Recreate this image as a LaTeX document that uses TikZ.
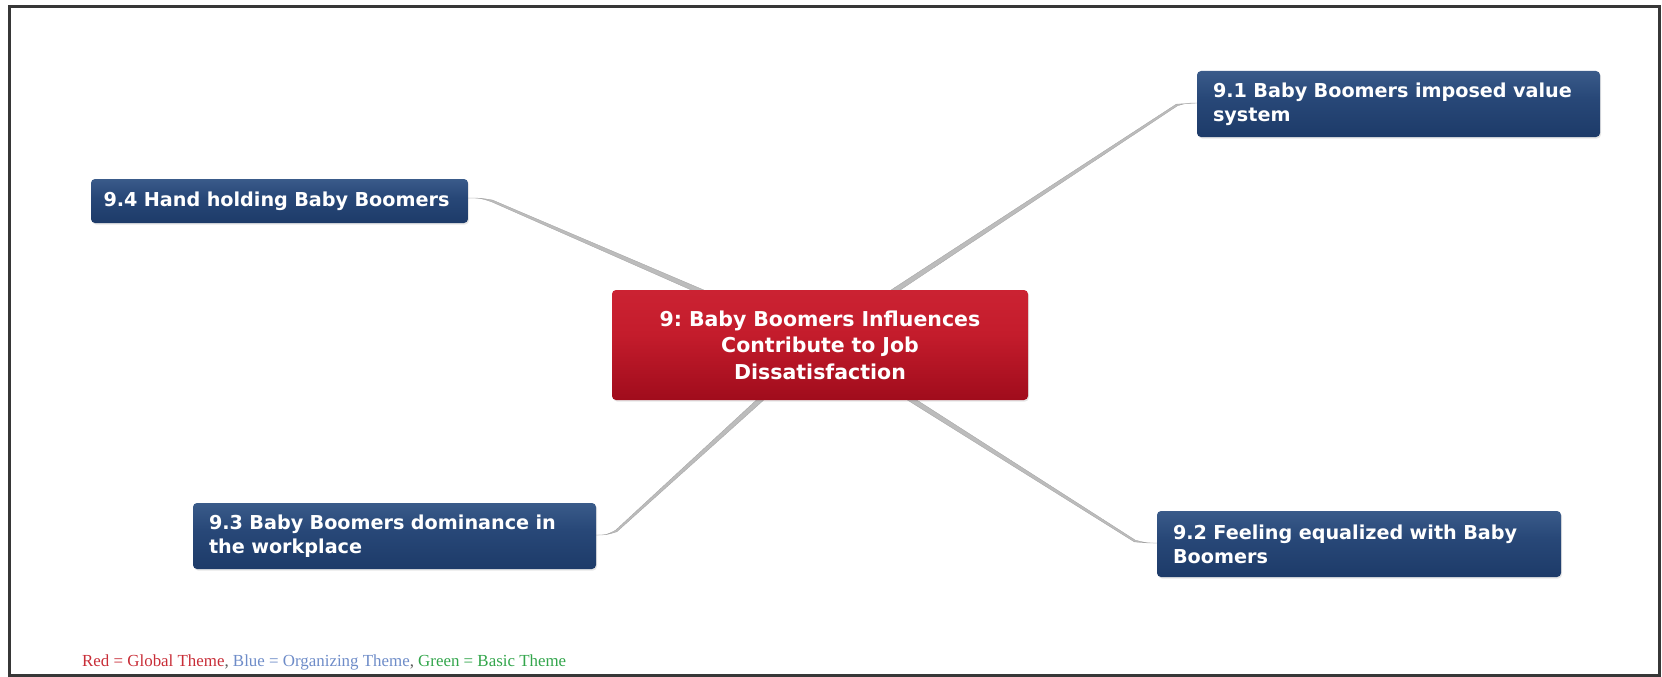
\documentclass[tikz,border=0pt]{standalone}
\usepackage{fontspec}
\setmainfont{Liberation Serif}
\newfontfamily\boxfont{DejaVu Sans}
\usetikzlibrary{calc,backgrounds,shadows}

\definecolor{framegray}{RGB}{55,55,55}
\definecolor{linkgray}{RGB}{188,188,188}
\definecolor{linkedge}{RGB}{162,162,162}
\definecolor{btop}{RGB}{80,114,160}
\definecolor{bmid}{RGB}{40,72,120}
\definecolor{bbot}{RGB}{22,50,95}
\definecolor{bedge}{RGB}{48,80,125}
\definecolor{rtop}{RGB}{212,42,58}
\definecolor{rmid}{RGB}{196,28,44}
\definecolor{rdark}{RGB}{160,12,28}
\definecolor{rbot}{RGB}{186,24,40}
\definecolor{legred}{RGB}{200,45,55}
\definecolor{legblue}{RGB}{110,140,200}
\definecolor{leggreen}{RGB}{50,165,75}
\definecolor{legcomma}{RGB}{90,90,90}

\pgfdeclareverticalshading{topicshade}{100bp}{%
  color(0bp)=(bedge); color(6bp)=(bbot); color(55bp)=(bmid); color(100bp)=(btop)}
\pgfdeclareverticalshading{rootshade}{100bp}{%
  color(0bp)=(rbot); color(25bp)=(rdark); color(55bp)=(rmid); color(100bp)=(rtop)}

% tapered branch: child point, handle, knee, end hidden under the central box
\newcommand\mmlink[4]{%
  \fill[linkgray, draw=linkedge, line width=0.3pt]
    (#1) .. controls (#2) .. ($(#3)!1pt!90:(#4)$)
    -- ($(#4)!2.6pt!-90:(#3)$) -- ($(#4)!2.6pt!90:(#3)$)
    -- ($(#3)!1pt!-90:(#4)$) .. controls (#2) .. (#1) -- cycle;}

\begin{document}
\frenchspacing
\begin{tikzpicture}[x=1pt,y=-1pt,
  boxbase/.style={rectangle, rounded corners=4pt, text=white,
    font=\boxfont\bfseries, inner ysep=0pt,
    drop shadow={opacity=0.2, shadow xshift=1pt, shadow yshift=-1.5pt}},
  topic/.style={boxbase, shading=topicshade, align=left, inner xsep=16pt,
    font=\boxfont\bfseries\fontsize{19.2}{24}\selectfont},
  rootbox/.style={boxbase, shading=rootshade, align=center, inner xsep=10pt,
    font=\boxfont\bfseries\fontsize{20.5}{26.5}\selectfont},
  legendtext/.style={anchor=base west, inner sep=0pt,
    font=\fontsize{16.9}{18}\selectfont}]

\useasboundingbox (0,0) rectangle (1662,677);
\draw[framegray, line width=3pt] (9,7) rectangle (1659,675);

% central theme
\node[rootbox, minimum width=416pt, minimum height=110pt, text width=396pt]
  (root) at (820,345)
  {9: Baby Boomers Influences\\Contribute to Job\\Dissatisfaction};

% organizing themes
\node[topic, minimum height=66pt, text width=371pt] (n91) at (1398.5,104)
  {9.1 Baby Boomers imposed value\\system};
\node[topic, minimum height=66pt, text width=372pt] (n92) at (1359,544)
  {9.2 Feeling equalized with Baby\\Boomers};
\node[topic, minimum height=66pt, text width=371pt] (n93) at (394.5,536)
  {9.3 Baby Boomers dominance in\\the workplace};
\node[topic, minimum height=44pt, text width=352pt, inner xsep=12.5pt] (n94)
  at (279.5,201) {9.4 Hand holding Baby Boomers};

% branch geometry
\coordinate (a94) at ($(n94.east)+(0,-3)$);
\coordinate (q94) at ($(n94.east)+(12,-3)$);
\coordinate (k94) at ($(n94.east)+(24,0)$);
\coordinate (e94) at ($(root.north west)+(99,6)$);

\coordinate (a91) at ($(n91.west)+(0,-1)$);
\coordinate (q91) at ($(n91.west)+(-10,-1)$);
\coordinate (k91) at ($(n91.west)+(-20,1)$);
\coordinate (e91) at ($(root.north west)+(272,8)$);

\coordinate (a93) at ($(n93.east)+(0,-1)$);
\coordinate (q93) at ($(n93.east)+(10,-1)$);
\coordinate (k93) at ($(n93.east)+(20,-5)$);
\coordinate (e93) at ($(root.south west)+(159,-10)$);

\coordinate (a92) at ($(n92.west)+(0,-1)$);
\coordinate (q92) at ($(n92.west)+(-10,-1)$);
\coordinate (k92) at ($(n92.west)+(-22,-3)$);
\coordinate (e92) at ($(root.south west)+(288,-8)$);

\begin{pgfonlayer}{background}
  \mmlink{a94}{q94}{k94}{e94}
  \mmlink{a91}{q91}{k91}{e91}
  \mmlink{a93}{q93}{k93}{e93}
  \mmlink{a92}{q92}{k92}{e92}
\end{pgfonlayer}

% colour key
\node[legendtext] (legend) at (82,666)
  {\textcolor{legred}{Red = Global Theme}\textcolor{legcomma}{,}
   \textcolor{legblue}{Blue = Organizing Theme}\textcolor{legcomma}{,}
   \textcolor{leggreen}{Green = Basic Theme}};
\end{tikzpicture}
\end{document}
